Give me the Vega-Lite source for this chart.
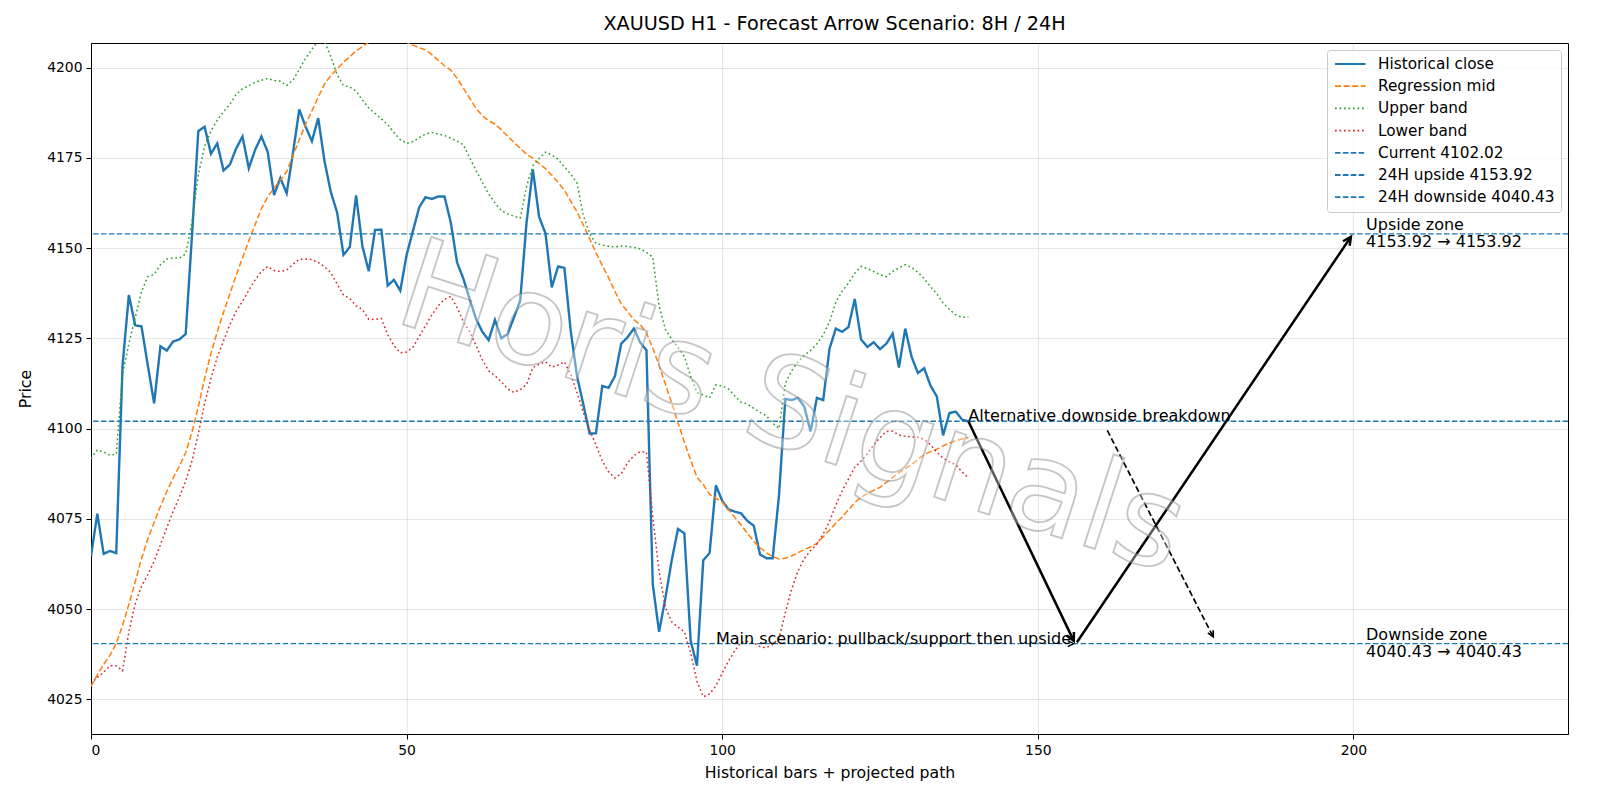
{
  "$schema": "https://vega.github.io/schema/vega-lite/v6.json",
  "width": 1477,
  "height": 691,
  "autosize": {"type": "none"},
  "padding": {"left": 91, "top": 43, "right": 32, "bottom": 66},
  "background": "white",
  "title": {"text": "XAUUSD H1 - Forecast Arrow Scenario: 8H / 24H", "font": "DejaVu Sans", "fontSize": 19.2, "fontWeight": "normal", "color": "black", "anchor": "middle", "frame": "group", "baseline": "bottom", "offset": -10, "dx": 5},
  "datasets": {
    "hist": [
      {"bar":0,"Historical close":4064.7,"Regression mid":4028.6,"Upper band":4091.7,"Lower band":4029.3},
      {"bar":1,"Historical close":4076.4,"Regression mid":4031.8,"Upper band":4094.1,"Lower band":4031.1},
      {"bar":2,"Historical close":4065.3,"Regression mid":4034.7,"Upper band":4093.5,"Lower band":4032.5},
      {"bar":3,"Historical close":4066.1,"Regression mid":4037.2,"Upper band":4092.6,"Lower band":4034.3},
      {"bar":4,"Historical close":4065.5,"Regression mid":4040.5,"Upper band":4092.9,"Lower band":4034.3},
      {"bar":5,"Historical close":4117.5,"Regression mid":4045.5,"Upper band":4115.1,"Lower band":4032.9},
      {"bar":6,"Historical close":4137.0,"Regression mid":4051.3,"Upper band":4123.5,"Lower band":4043.7},
      {"bar":7,"Historical close":4128.6,"Regression mid":4057.5,"Upper band":4130.7,"Lower band":4051.5},
      {"bar":8,"Historical close":4128.3,"Regression mid":4064.0,"Upper band":4137.9,"Lower band":4056.3},
      {"bar":9,"Historical close":4117.5,"Regression mid":4069.4,"Upper band":4142.1,"Lower band":4059.5},
      {"bar":10,"Historical close":4107.0,"Regression mid":4074.0,"Upper band":4142.7,"Lower band":4063.3},
      {"bar":11,"Historical close":4122.8,"Regression mid":4078.5,"Upper band":4145.4,"Lower band":4067.8},
      {"bar":12,"Historical close":4121.6,"Regression mid":4082.5,"Upper band":4146.9,"Lower band":4072.5},
      {"bar":13,"Historical close":4124.1,"Regression mid":4086.3,"Upper band":4147.3,"Lower band":4077.0},
      {"bar":14,"Historical close":4124.7,"Regression mid":4089.6,"Upper band":4147.2,"Lower band":4081.0},
      {"bar":15,"Historical close":4126.2,"Regression mid":4093.3,"Upper band":4148.4,"Lower band":4085.5},
      {"bar":16,"Historical close":4153.5,"Regression mid":4099.0,"Upper band":4157.1,"Lower band":4091.0},
      {"bar":17,"Historical close":4182.4,"Regression mid":4106.0,"Upper band":4170.3,"Lower band":4098.5},
      {"bar":18,"Historical close":4183.6,"Regression mid":4113.9,"Upper band":4178.2,"Lower band":4107.0},
      {"bar":19,"Historical close":4176.1,"Regression mid":4120.8,"Upper band":4182.4,"Lower band":4113.8},
      {"bar":20,"Historical close":4179.0,"Regression mid":4126.8,"Upper band":4185.4,"Lower band":4119.8},
      {"bar":21,"Historical close":4171.5,"Regression mid":4132.2,"Upper band":4187.8,"Lower band":4124.3},
      {"bar":22,"Historical close":4173.1,"Regression mid":4137.3,"Upper band":4189.8,"Lower band":4128.8},
      {"bar":23,"Historical close":4177.6,"Regression mid":4142.5,"Upper band":4192.6,"Lower band":4132.5},
      {"bar":24,"Historical close":4180.9,"Regression mid":4147.3,"Upper band":4194.1,"Lower band":4135.2},
      {"bar":25,"Historical close":4172.1,"Regression mid":4152.0,"Upper band":4195.0,"Lower band":4138.3},
      {"bar":26,"Historical close":4177.2,"Regression mid":4156.5,"Upper band":4195.9,"Lower band":4141.2},
      {"bar":27,"Historical close":4180.9,"Regression mid":4160.9,"Upper band":4196.5,"Lower band":4143.5},
      {"bar":28,"Historical close":4176.6,"Regression mid":4164.2,"Upper band":4197.0,"Lower band":4144.9},
      {"bar":29,"Historical close":4164.7,"Regression mid":4166.6,"Upper band":4196.4,"Lower band":4143.8},
      {"bar":30,"Historical close":4169.4,"Regression mid":4168.8,"Upper band":4196.2,"Lower band":4143.5},
      {"bar":31,"Historical close":4165.2,"Regression mid":4171.2,"Upper band":4195.0,"Lower band":4143.9},
      {"bar":32,"Historical close":4176.4,"Regression mid":4175.6,"Upper band":4196.5,"Lower band":4145.5},
      {"bar":33,"Historical close":4188.4,"Regression mid":4180.0,"Upper band":4199.5,"Lower band":4146.9},
      {"bar":34,"Historical close":4183.6,"Regression mid":4184.3,"Upper band":4202.6,"Lower band":4147.0},
      {"bar":35,"Historical close":4179.6,"Regression mid":4188.0,"Upper band":4205.0,"Lower band":4146.8},
      {"bar":36,"Historical close":4186.0,"Regression mid":4191.8,"Upper band":4207.5,"Lower band":4146.0},
      {"bar":37,"Historical close":4174.0,"Regression mid":4195.4,"Upper band":4207.2,"Lower band":4144.8},
      {"bar":38,"Historical close":4165.5,"Regression mid":4197.8,"Upper band":4203.0,"Lower band":4143.2},
      {"bar":39,"Historical close":4159.8,"Regression mid":4199.6,"Upper band":4198.0,"Lower band":4140.0},
      {"bar":40,"Historical close":4148.1,"Regression mid":4201.5,"Upper band":4195.0,"Lower band":4137.0},
      {"bar":41,"Historical close":4150.3,"Regression mid":4203.0,"Upper band":4194.6,"Lower band":4136.0},
      {"bar":42,"Historical close":4164.6,"Regression mid":4204.6,"Upper band":4193.5,"Lower band":4134.0},
      {"bar":43,"Historical close":4150.5,"Regression mid":4205.8,"Upper band":4191.0,"Lower band":4133.0},
      {"bar":44,"Historical close":4143.6,"Regression mid":4207.0,"Upper band":4188.8,"Lower band":4130.3},
      {"bar":45,"Historical close":4155.0,"Regression mid":4208.0,"Upper band":4187.3,"Lower band":4130.2},
      {"bar":46,"Historical close":4155.1,"Regression mid":4208.5,"Upper band":4185.8,"Lower band":4130.5},
      {"bar":47,"Historical close":4139.6,"Regression mid":4208.7,"Upper band":4184.2,"Lower band":4126.0},
      {"bar":48,"Historical close":4141.2,"Regression mid":4208.4,"Upper band":4182.0,"Lower band":4123.0},
      {"bar":49,"Historical close":4138.2,"Regression mid":4207.8,"Upper band":4180.0,"Lower band":4121.0},
      {"bar":50,"Historical close":4148.1,"Regression mid":4207.0,"Upper band":4179.0,"Lower band":4121.2},
      {"bar":51,"Historical close":4154.7,"Regression mid":4206.2,"Upper band":4179.5,"Lower band":4122.5},
      {"bar":52,"Historical close":4161.3,"Regression mid":4205.5,"Upper band":4180.6,"Lower band":4125.5},
      {"bar":53,"Historical close":4164.1,"Regression mid":4204.9,"Upper band":4181.6,"Lower band":4128.5},
      {"bar":54,"Historical close":4163.6,"Regression mid":4203.6,"Upper band":4182.0,"Lower band":4131.5},
      {"bar":55,"Historical close":4164.3,"Regression mid":4202.0,"Upper band":4181.6,"Lower band":4134.0},
      {"bar":56,"Historical close":4164.3,"Regression mid":4200.5,"Upper band":4181.2,"Lower band":4135.8},
      {"bar":57,"Historical close":4157.1,"Regression mid":4199.3,"Upper band":4180.4,"Lower band":4136.6},
      {"bar":58,"Historical close":4146.0,"Regression mid":4197.0,"Upper band":4179.6,"Lower band":4133.5},
      {"bar":59,"Historical close":4141.5,"Regression mid":4194.3,"Upper band":4178.6,"Lower band":4129.6},
      {"bar":60,"Historical close":4135.8,"Regression mid":4191.5,"Upper band":4175.0,"Lower band":4126.8},
      {"bar":61,"Historical close":4130.4,"Regression mid":4188.7,"Upper band":4171.5,"Lower band":4123.0},
      {"bar":62,"Historical close":4126.8,"Regression mid":4186.7,"Upper band":4168.2,"Lower band":4119.0},
      {"bar":63,"Historical close":4124.5,"Regression mid":4185.3,"Upper band":4165.0,"Lower band":4116.0},
      {"bar":64,"Historical close":4130.1,"Regression mid":4184.3,"Upper band":4162.5,"Lower band":4114.6},
      {"bar":65,"Historical close":4125.0,"Regression mid":4182.8,"Upper band":4160.4,"Lower band":4113.0},
      {"bar":66,"Historical close":4126.2,"Regression mid":4181.0,"Upper band":4159.5,"Lower band":4111.0},
      {"bar":67,"Historical close":4130.7,"Regression mid":4179.3,"Upper band":4158.8,"Lower band":4110.0},
      {"bar":68,"Historical close":4135.5,"Regression mid":4177.6,"Upper band":4158.3,"Lower band":4110.8},
      {"bar":69,"Historical close":4157.0,"Regression mid":4176.0,"Upper band":4167.0,"Lower band":4112.2},
      {"bar":70,"Historical close":4171.8,"Regression mid":4174.9,"Upper band":4172.8,"Lower band":4116.9},
      {"bar":71,"Historical close":4158.6,"Regression mid":4173.4,"Upper band":4174.8,"Lower band":4117.8},
      {"bar":72,"Historical close":4154.1,"Regression mid":4172.0,"Upper band":4176.6,"Lower band":4118.5},
      {"bar":73,"Historical close":4139.1,"Regression mid":4170.2,"Upper band":4175.8,"Lower band":4117.0},
      {"bar":74,"Historical close":4144.9,"Regression mid":4168.2,"Upper band":4174.6,"Lower band":4117.6},
      {"bar":75,"Historical close":4144.5,"Regression mid":4166.0,"Upper band":4172.5,"Lower band":4118.5},
      {"bar":76,"Historical close":4127.1,"Regression mid":4163.0,"Upper band":4170.5,"Lower band":4115.0},
      {"bar":77,"Historical close":4114.5,"Regression mid":4160.0,"Upper band":4168.0,"Lower band":4110.0},
      {"bar":78,"Historical close":4106.7,"Regression mid":4156.4,"Upper band":4159.0,"Lower band":4104.5},
      {"bar":79,"Historical close":4098.6,"Regression mid":4152.6,"Upper band":4154.0,"Lower band":4099.5},
      {"bar":80,"Historical close":4098.7,"Regression mid":4148.7,"Upper band":4151.3,"Lower band":4095.5},
      {"bar":81,"Historical close":4111.8,"Regression mid":4145.2,"Upper band":4150.8,"Lower band":4091.0},
      {"bar":82,"Historical close":4111.3,"Regression mid":4141.8,"Upper band":4150.5,"Lower band":4088.0},
      {"bar":83,"Historical close":4114.5,"Regression mid":4138.0,"Upper band":4150.3,"Lower band":4086.3},
      {"bar":84,"Historical close":4123.5,"Regression mid":4134.6,"Upper band":4150.6,"Lower band":4087.5},
      {"bar":85,"Historical close":4125.3,"Regression mid":4132.4,"Upper band":4150.4,"Lower band":4090.5},
      {"bar":86,"Historical close":4127.7,"Regression mid":4130.2,"Upper band":4150.2,"Lower band":4092.5},
      {"bar":87,"Historical close":4123.9,"Regression mid":4128.8,"Upper band":4149.8,"Lower band":4093.6},
      {"bar":88,"Historical close":4121.7,"Regression mid":4126.5,"Upper band":4148.8,"Lower band":4093.5},
      {"bar":89,"Historical close":4056.9,"Regression mid":4122.3,"Upper band":4147.5,"Lower band":4075.5},
      {"bar":90,"Historical close":4043.7,"Regression mid":4117.5,"Upper band":4134.0,"Lower band":4060.5},
      {"bar":91,"Historical close":4053.0,"Regression mid":4112.3,"Upper band":4127.5,"Lower band":4050.5},
      {"bar":92,"Historical close":4063.5,"Regression mid":4107.0,"Upper band":4124.7,"Lower band":4046.5},
      {"bar":93,"Historical close":4072.2,"Regression mid":4101.7,"Upper band":4122.5,"Lower band":4045.0},
      {"bar":94,"Historical close":4071.0,"Regression mid":4096.2,"Upper band":4120.0,"Lower band":4043.7},
      {"bar":95,"Historical close":4041.3,"Regression mid":4091.3,"Upper band":4114.5,"Lower band":4038.0},
      {"bar":96,"Historical close":4034.3,"Regression mid":4086.5,"Upper band":4110.0,"Lower band":4030.0},
      {"bar":97,"Historical close":4063.5,"Regression mid":4084.5,"Upper band":4109.3,"Lower band":4025.7},
      {"bar":98,"Historical close":4065.5,"Regression mid":4081.8,"Upper band":4108.5,"Lower band":4026.5},
      {"bar":99,"Historical close":4084.3,"Regression mid":4080.7,"Upper band":4112.1,"Lower band":4028.7},
      {"bar":100,"Historical close":4080.0,"Regression mid":4079.7,"Upper band":4111.8,"Lower band":4032.3},
      {"bar":101,"Historical close":4077.6,"Regression mid":4077.6,"Upper band":4111.0,"Lower band":4035.6},
      {"bar":102,"Historical close":4077.0,"Regression mid":4075.4,"Upper band":4109.0,"Lower band":4038.5},
      {"bar":103,"Historical close":4076.5,"Regression mid":4073.3,"Upper band":4107.3,"Lower band":4040.8},
      {"bar":104,"Historical close":4074.4,"Regression mid":4071.0,"Upper band":4106.8,"Lower band":4041.0},
      {"bar":105,"Historical close":4073.1,"Regression mid":4068.8,"Upper band":4105.6,"Lower band":4040.6},
      {"bar":106,"Historical close":4065.1,"Regression mid":4067.0,"Upper band":4104.5,"Lower band":4039.6},
      {"bar":107,"Historical close":4064.1,"Regression mid":4065.6,"Upper band":4103.5,"Lower band":4039.3},
      {"bar":108,"Historical close":4064.1,"Regression mid":4064.5,"Upper band":4101.5,"Lower band":4040.2},
      {"bar":109,"Historical close":4081.5,"Regression mid":4063.9,"Upper band":4100.0,"Lower band":4042.0},
      {"bar":110,"Historical close":4108.2,"Regression mid":4064.1,"Upper band":4112.5,"Lower band":4049.0},
      {"bar":111,"Historical close":4107.9,"Regression mid":4064.7,"Upper band":4116.0,"Lower band":4055.5},
      {"bar":112,"Historical close":4108.5,"Regression mid":4065.6,"Upper band":4118.5,"Lower band":4060.5},
      {"bar":113,"Historical close":4106.1,"Regression mid":4066.5,"Upper band":4120.3,"Lower band":4064.0},
      {"bar":114,"Historical close":4099.2,"Regression mid":4067.2,"Upper band":4121.6,"Lower band":4066.2},
      {"bar":115,"Historical close":4108.5,"Regression mid":4068.2,"Upper band":4123.5,"Lower band":4068.0},
      {"bar":116,"Historical close":4107.9,"Regression mid":4070.0,"Upper band":4126.0,"Lower band":4070.8},
      {"bar":117,"Historical close":4122.1,"Regression mid":4071.9,"Upper band":4129.5,"Lower band":4074.3},
      {"bar":118,"Historical close":4127.7,"Regression mid":4073.8,"Upper band":4135.0,"Lower band":4078.8},
      {"bar":119,"Historical close":4126.8,"Regression mid":4075.5,"Upper band":4138.0,"Lower band":4082.7},
      {"bar":120,"Historical close":4128.1,"Regression mid":4077.5,"Upper band":4140.3,"Lower band":4086.0},
      {"bar":121,"Historical close":4135.9,"Regression mid":4079.5,"Upper band":4143.0,"Lower band":4089.3},
      {"bar":122,"Historical close":4124.7,"Regression mid":4081.0,"Upper band":4144.9,"Lower band":4091.0},
      {"bar":123,"Historical close":4122.6,"Regression mid":4082.0,"Upper band":4144.3,"Lower band":4093.0},
      {"bar":124,"Historical close":4123.9,"Regression mid":4082.9,"Upper band":4143.5,"Lower band":4095.5},
      {"bar":125,"Historical close":4122.0,"Regression mid":4083.7,"Upper band":4142.6,"Lower band":4097.5},
      {"bar":126,"Historical close":4123.5,"Regression mid":4085.1,"Upper band":4142.1,"Lower band":4099.2},
      {"bar":127,"Historical close":4126.3,"Regression mid":4086.4,"Upper band":4143.5,"Lower band":4099.3},
      {"bar":128,"Historical close":4116.9,"Regression mid":4087.8,"Upper band":4144.5,"Lower band":4098.2},
      {"bar":129,"Historical close":4127.7,"Regression mid":4088.9,"Upper band":4145.4,"Lower band":4097.9},
      {"bar":130,"Historical close":4119.9,"Regression mid":4090.0,"Upper band":4144.6,"Lower band":4097.7},
      {"bar":131,"Historical close":4115.4,"Regression mid":4091.4,"Upper band":4143.3,"Lower band":4097.6},
      {"bar":132,"Historical close":4116.7,"Regression mid":4092.8,"Upper band":4141.5,"Lower band":4097.0},
      {"bar":133,"Historical close":4111.9,"Regression mid":4093.6,"Upper band":4139.3,"Lower band":4095.5},
      {"bar":134,"Historical close":4108.9,"Regression mid":4094.3,"Upper band":4137.3,"Lower band":4093.5},
      {"bar":135,"Historical close":4098.1,"Regression mid":4095.2,"Upper band":4134.8,"Lower band":4091.8},
      {"bar":136,"Historical close":4104.3,"Regression mid":4096.0,"Upper band":4133.0,"Lower band":4090.8},
      {"bar":137,"Historical close":4104.7,"Regression mid":4096.6,"Upper band":4131.5,"Lower band":4090.0},
      {"bar":138,"Historical close":4102.5,"Regression mid":4097.1,"Upper band":4130.8,"Lower band":4088.0},
      {"bar":139,"Historical close":4102.02,"Regression mid":4097.5,"Upper band":4131.0,"Lower band":4086.3}
    ],
    "levels": [
      {"label": "Current 4102.02", "level": 4102.02},
      {"label": "24H upside 4153.92", "level": 4153.92},
      {"label": "24H downside 4040.43", "level": 4040.43}
    ],
    "arrows": [
      {"arrow": "main-down", "style": "solid", "bar": 139, "price": 4102.02, "bar2": 155.7, "price2": 4041.2},
      {"arrow": "main-up", "style": "solid", "bar": 156.2, "price": 4040.8, "bar2": 199.6, "price2": 4153.1},
      {"arrow": "alt", "style": "dashed", "bar": 161, "price": 4099.5, "bar2": 177.8, "price2": 4042.3},
      {"arrow": "main-label", "style": "none", "bar": 99, "price": 4040.43, "bar2": 155.7, "price2": 4040.43}
    ],
    "notes": [
      {"note": "Alternative downside breakdown", "bar": 139, "price": 4102.02},
      {"note": "Main scenario: pullback/support then upside", "bar": 99, "price": 4040.43}
    ],
    "zones": [
      {"note": "Upside zone\n4153.92 → 4153.92", "bar": 202, "price": 4153.92},
      {"note": "Downside zone\n4040.43 → 4040.43", "bar": 202, "price": 4040.43}
    ],
    "watermark": [
      {"note": "Horis Signals", "bar": 111, "price": 4105}
    ]
  },
  "layer": [
    {
      "data": {"name": "hist"},
      "mark": {"type": "line", "strokeWidth": 2.4, "clip": true},
      "encoding": {
        "x": {"field": "bar", "type": "quantitative", "scale": {"domain": [0, 234], "nice": false, "zero": false},
              "axis": {"values": [0, 50, 100, 150, 200], "format": "d", "title": "Historical bars + projected path", "titlePadding": 9}},
        "y": {"field": "Historical close", "type": "quantitative", "scale": {"domain": [4015.4, 4206.8], "nice": false, "zero": false},
              "axis": {"values": [4025, 4050, 4075, 4100, 4125, 4150, 4175, 4200], "format": "d", "title": "Price", "titlePadding": 13}},
        "color": {"datum": "Historical close", "type": "nominal",
                  "scale": {"domain": ["Historical close", "Regression mid", "Upper band", "Lower band", "Current 4102.02", "24H upside 4153.92", "24H downside 4040.43"],
                            "range": ["#1f77b4", "#ff7f0e", "#2ca02c", "#d62728", "#1f77b4", "#1f77b4", "#1f77b4"]},
                  "legend": {"title": null}},
        "strokeDash": {"datum": "Historical close", "type": "nominal",
                  "scale": {"domain": ["Historical close", "Regression mid", "Upper band", "Lower band", "Current 4102.02", "24H upside 4153.92", "24H downside 4040.43"],
                            "range": [[1, 0], [6, 2.6], [1.7, 2.8], [1.7, 2.8], [5.5, 2.4], [5.5, 2.4], [5.5, 2.4]]},
                  "legend": {"title": null}}
      }
    },
    {
      "data": {"name": "hist"},
      "transform": [{"fold": ["Regression mid", "Upper band", "Lower band"], "as": ["series", "value"]}],
      "mark": {"type": "line", "strokeWidth": 1.5, "clip": true},
      "encoding": {
        "x": {"field": "bar", "type": "quantitative"},
        "y": {"field": "value", "type": "quantitative"},
        "color": {"field": "series", "type": "nominal", "legend": {"title": null}},
        "strokeDash": {"field": "series", "type": "nominal", "legend": {"title": null}}
      }
    },
    {
      "data": {"name": "levels"},
      "mark": {"type": "rule", "strokeWidth": 1.4},
      "encoding": {
        "y": {"field": "level", "type": "quantitative"},
        "color": {"field": "label", "type": "nominal", "legend": {"title": null}},
        "strokeDash": {"field": "label", "type": "nominal", "legend": {"title": null}}
      }
    },
    {
      "data": {"name": "arrows"},
      "transform": [{"filter": "datum.style == 'solid'"}],
      "mark": {"type": "rule", "color": "black", "strokeWidth": 2.5},
      "encoding": {
        "x": {"field": "bar", "type": "quantitative"},
        "x2": {"field": "bar2"},
        "y": {"field": "price", "type": "quantitative"},
        "y2": {"field": "price2"}
      }
    },
    {
      "data": {"name": "arrows"},
      "transform": [{"filter": "datum.style == 'dashed'"}],
      "mark": {"type": "rule", "color": "black", "strokeWidth": 1.7, "strokeDash": [6, 3]},
      "encoding": {
        "x": {"field": "bar", "type": "quantitative"},
        "x2": {"field": "bar2"},
        "y": {"field": "price", "type": "quantitative"},
        "y2": {"field": "price2"}
      }
    },
    {
      "data": {"name": "arrows"},
      "transform": [{"filter": "datum.arrow == 'main-down'"}],
      "mark": {"type": "point", "shape": "M-0.5,1L0,0L0.5,1", "filled": false, "stroke": "black", "strokeWidth": 2.5, "size": 256, "angle": 154.2, "opacity": 1},
      "encoding": {"x": {"field": "bar2", "type": "quantitative"}, "y": {"field": "price2", "type": "quantitative"}}
    },
    {
      "data": {"name": "arrows"},
      "transform": [{"filter": "datum.arrow == 'main-up'"}],
      "mark": {"type": "point", "shape": "M-0.5,1L0,0L0.5,1", "filled": false, "stroke": "black", "strokeWidth": 2.5, "size": 256, "angle": 34.2, "opacity": 1},
      "encoding": {"x": {"field": "bar2", "type": "quantitative"}, "y": {"field": "price2", "type": "quantitative"}}
    },
    {
      "data": {"name": "arrows"},
      "transform": [{"filter": "datum.arrow == 'alt'"}],
      "mark": {"type": "point", "shape": "M-0.5,1L0,0L0.5,1", "filled": false, "stroke": "black", "strokeWidth": 1.7, "size": 144, "angle": 152.8, "opacity": 1},
      "encoding": {"x": {"field": "bar2", "type": "quantitative"}, "y": {"field": "price2", "type": "quantitative"}}
    },
    {
      "data": {"name": "arrows"},
      "transform": [{"filter": "datum.arrow == 'main-label'"}],
      "mark": {"type": "point", "shape": "M-0.5,1L0,0L0.5,1", "filled": false, "stroke": "black", "strokeWidth": 1.2, "size": 144, "angle": 90, "opacity": 1},
      "encoding": {"x": {"field": "bar2", "type": "quantitative"}, "y": {"field": "price2", "type": "quantitative"}}
    },
    {
      "data": {"name": "notes"},
      "mark": {"type": "text", "align": "left", "baseline": "alphabetic", "font": "DejaVu Sans", "fontSize": 16, "color": "black"},
      "encoding": {
        "x": {"field": "bar", "type": "quantitative"},
        "y": {"field": "price", "type": "quantitative"},
        "text": {"field": "note"}
      }
    },
    {
      "data": {"name": "zones"},
      "mark": {"type": "text", "align": "left", "baseline": "middle", "lineBreak": "\n", "lineHeight": 16.5, "dy": -8.5, "font": "DejaVu Sans", "fontSize": 16, "color": "black"},
      "encoding": {
        "x": {"field": "bar", "type": "quantitative"},
        "y": {"field": "price", "type": "quantitative"},
        "text": {"field": "note"}
      }
    },
    {
      "data": {"name": "watermark"},
      "mark": {"type": "text", "align": "center", "baseline": "middle", "font": "DejaVu Sans", "fontSize": 126, "angle": 18, "fill": "white", "fillOpacity": 0.35, "stroke": "#8c8c8c", "strokeWidth": 1.8, "strokeOpacity": 0.5},
      "encoding": {
        "x": {"field": "bar", "type": "quantitative"},
        "y": {"field": "price", "type": "quantitative"},
        "text": {"field": "note"}
      }
    }
  ],
  "config": {
    "font": "DejaVu Sans",
    "view": {"stroke": "black", "strokeWidth": 1},
    "axis": {"labelFont": "DejaVu Sans", "labelFontSize": 13.9, "labelColor": "black", "titleFont": "DejaVu Sans", "titleFontSize": 15.7, "titleFontWeight": "normal", "titleColor": "black", "tickColor": "black", "tickSize": 5, "tickWidth": 1, "domainColor": "black", "domainWidth": 1, "gridColor": "#b0b0b0", "gridOpacity": 0.3, "gridWidth": 1.1, "labelPadding": 4},
    "legend": {"orient": "top-right", "offset": 7, "padding": 6, "strokeColor": "#cccccc", "fillColor": "rgba(255,255,255,0.8)", "cornerRadius": 3, "labelFont": "DejaVu Sans", "labelFontSize": 15.3, "labelColor": "black", "labelLimit": 0, "symbolType": "M-0.857,0L3.51,0", "symbolSize": 196, "symbolStrokeWidth": 1.8, "rowPadding": 5.2, "labelOffset": 29, "symbolLimit": 0}
  }
}
